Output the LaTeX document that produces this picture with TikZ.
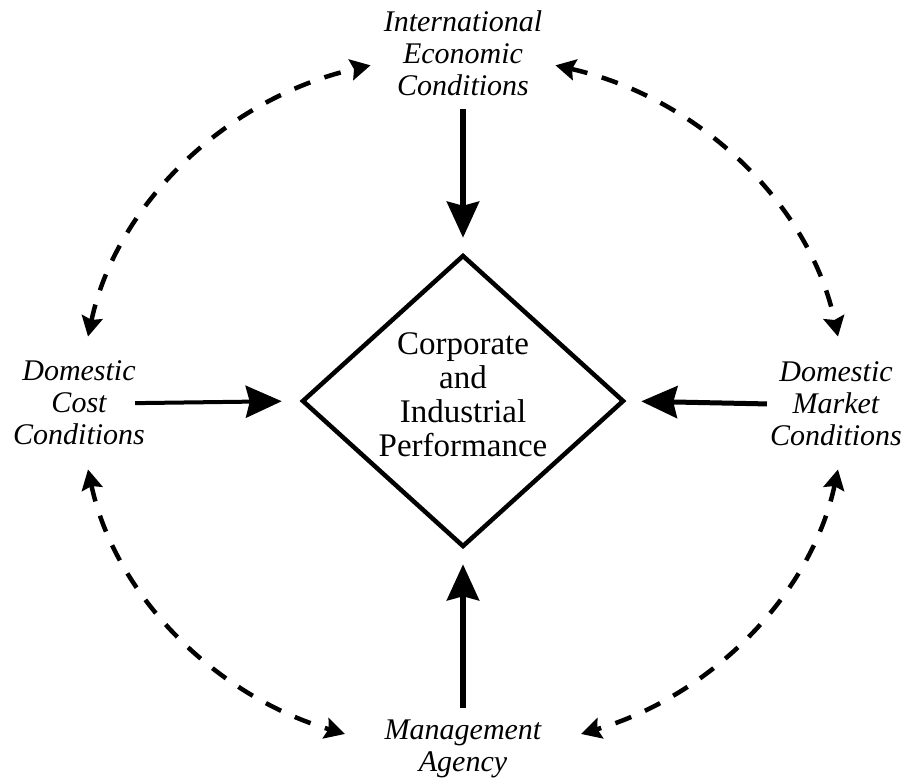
\documentclass[tikz,border=0pt]{standalone}
\usepackage{fontspec}
\setmainfont{Liberation Serif}
\usetikzlibrary{arrows.meta,shapes.geometric,calc}
\begin{document}
\begin{tikzpicture}[x=1pt,y=1pt,
  lbl/.style={align=center, inner sep=0pt, font=\fontsize{30pt}{32pt}\selectfont\itshape},
  core/.style={draw, diamond, line width=4.5pt, inner sep=0pt, shape aspect=1.1,
    minimum width=322pt, minimum height=292pt},
  coretext/.style={align=center, inner sep=0pt, font=\fontsize{33pt}{34pt}\selectfont},
  bigtip/.style={-{Stealth[length=36pt,width=32pt,inset=4pt]}},
  solidarr/.style={bigtip, line width=#1},
  dasharc/.style={line width=4.5pt, dash pattern=on 17pt off 15pt,
    {Stealth[length=20pt,width=21pt,inset=3pt]}-{Stealth[length=20pt,width=21pt,inset=3pt]}}
]
\path[use as bounding box, fill=white] (0,0) rectangle (907,-778);

\node[lbl] (intl) at (463,-53) {International\\Economic\\Conditions};
\node[lbl] (cost) at (79,-403) {Domestic\\Cost\\Conditions};
\node[lbl] (market) at (836,-404) {Domestic\\Market\\Conditions};
\node[lbl] (mgmt) at (463,-749) {Management\\Agency};
\node[core] (perf) at (463,-401) {};
\node[coretext] (perftext) at (463,-395) {Corporate\\and\\Industrial\\Performance};

\draw[solidarr=6pt, shorten <=13pt, shorten >=15pt] (intl.south) -- (perf.north);
\draw[solidarr=6pt, shorten <=12pt, shorten >=15pt] (mgmt.north) -- (perf.south);
\draw[solidarr=4pt, shorten <=-10pt, shorten >=18pt] (cost.east) -- (perf.west);
\draw[solidarr=5pt, shorten <=3pt, shorten >=15pt] (market.west) -- (perf.east);

\coordinate (ctr) at (463,-403);
\coordinate (tlA) at ($(ctr)+(169:382 and 348)$);
\coordinate (trA) at ($(ctr)+(76:382 and 348)$);
\coordinate (blA) at ($(ctr)+(191:382 and 348)$);
\coordinate (brA) at ($(ctr)+(349:382 and 348)$);
\draw[dasharc] (tlA) arc[start angle=169, end angle=104, x radius=382, y radius=348];
\draw[dasharc] (trA) arc[start angle=76, end angle=11, x radius=382, y radius=348];
\draw[dasharc] (blA) arc[start angle=191, end angle=252, x radius=382, y radius=348];
\draw[dasharc] (brA) arc[start angle=349, end angle=288, x radius=382, y radius=348];
\end{tikzpicture}
\end{document}
